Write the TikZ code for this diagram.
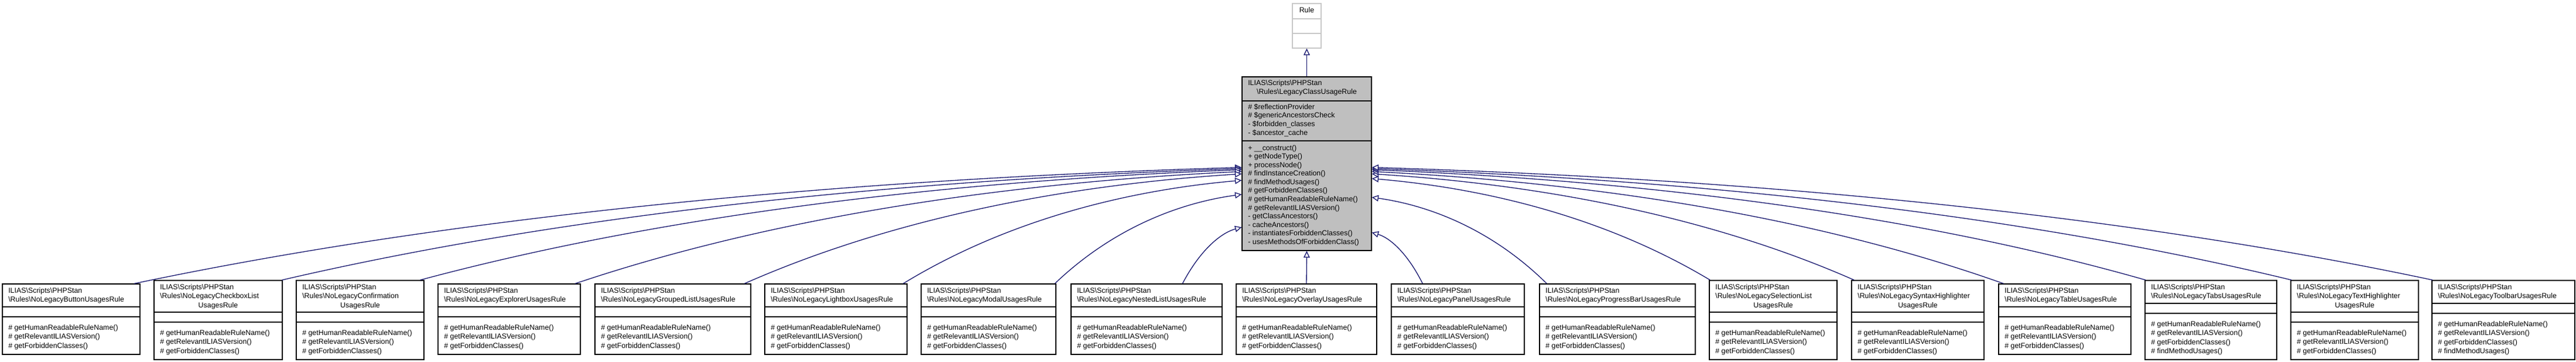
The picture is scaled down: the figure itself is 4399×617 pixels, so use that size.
\documentclass[tikz,border=0pt]{standalone}
\usepackage{fontspec}
\setmainfont{Liberation Sans}
\usetikzlibrary{arrows.meta,fit,calc}
\definecolor{cgray}{RGB}{191,191,191}
\definecolor{rgray}{RGB}{200,200,200}
\definecolor{navy}{RGB}{25,25,112}
\newcommand\BSL{\textbackslash}
\tikzset{
  box/.style={draw=black, line width=1pt, inner sep=0pt, fill=white},
  tx/.style={inner sep=0pt, anchor=west, font=\fontsize{9.3}{11}\selectfont},
  tc/.style={inner sep=0pt, anchor=center, font=\fontsize{9.3}{11}\selectfont},
  sep/.style={draw=black, line width=1pt},
  inh/.style={draw=navy, line width=1pt, -{Triangle[length=8.5pt,width=8pt,fill=white]}}
}
% #1 id, #2 L, #3 R, #4 top, #5 title lines, #6 title line 2, #7 method count
\newcommand\bbox[7]{%
  \pgfmathsetmacro\myhT{#5==2?39:54}%
  \pgfmathsetmacro\myhM{#7==3?64:79}%
  \pgfmathsetmacro\myyA{#4+\myhT}%
  \pgfmathsetmacro\myyB{\myyA+17}%
  \pgfmathsetmacro\myyC{\myyB+\myhM}%
  \node[box, fit={(#2,#4) (#3,\myyC)}] (#1) {};
  \draw[sep] (#2,\myyA) -- (#3,\myyA);
  \draw[sep] (#2,\myyB) -- (#3,\myyB);
  \node[tx] at (#2+10,#4+12) {ILIAS\BSL Scripts\BSL PHPStan};
  \node[tx] at (#2+10,#4+27.5) {#6};
  \ifnum#5=3 \node[tc] at ({(#2+#3)/2},#4+43) {UsagesRule};\fi
  \node[tx] at (#2+10,\myyB+19) {\# getHumanReadableRuleName()};
  \node[tx] at (#2+10,\myyB+34.5) {\# getRelevantILIASVersion()};
  \node[tx] at (#2+10,\myyB+50) {\# getForbiddenClasses()};
  \ifnum#7=4 \node[tx] at (#2+10,\myyB+65.5) {\# findMethodUsages()};\fi
}
% #1 start, #2 end
\newcommand\inhedge[2]{%
  \draw[inh] let \p1=(#1), \p2=(#2) in (\p1) .. controls ({\x1+0.3*(\x2-\x1)},{\y1+0.6*(\y2-\y1)}) and ({\x2-0.35*(\x2-\x1)},{\y2-0.1*(\y2-\y1)}) .. (\p2);
}
\begin{document}
\begin{tikzpicture}[x=0.75pt,y=-0.75pt]
\useasboundingbox (0,0) rectangle (4399,617);
% Rule
\node[draw=rgray, line width=1pt, inner sep=0pt, fill=white, fit={(2207,6) (2256,82)}] (r) {};
\draw[draw=rgray, line width=1pt] (2207,32) -- (2256,32) (2207,57) -- (2256,57);
\node[tc] at (2231.5,17) {Rule};
% center class
\node[box, fill=cgray, fit={(2121,131) (2342,427)}] (c) {};
\draw[sep] (2121,172) -- (2342,172) (2121,240) -- (2342,240);
\node[tx] at (2131,142) {ILIAS\BSL Scripts\BSL PHPStan};
\node[tc] at (2231.5,157) {\BSL Rules\BSL LegacyClassUsageRule};
\foreach \t [count=\i] in {\# \$reflectionProvider, \# \$genericAncestorsCheck, - \$forbidden\_classes, - \$ancestor\_cache}
  \node[tx] at (2131,{172+10+15*(\i-1)}) {\t};
\foreach \t [count=\i] in {+ \_\_construct(), + getNodeType(), + processNode(), \# findInstanceCreation(), \# findMethodUsages(), \# getForbiddenClasses(), \# getHumanReadableRuleName(), \# getRelevantILIASVersion(), - getClassAncestors(), - cacheAncestors(), - instantiatesForbiddenClasses(), - usesMethodsOfForbiddenClass()}
  \node[tx] at (2131,{240+13+14.55*(\i-1)}) {\t};
\draw[inh] (c.north) -- (r.south);
% subclasses
\bbox{b1}{4}{239}{484}{2}{\BSL Rules\BSL NoLegacyButtonUsagesRule}{3}
\bbox{b2}{263}{482}{478}{3}{\BSL Rules\BSL NoLegacyCheckboxList}{3}
\bbox{b3}{506}{724}{478}{3}{\BSL Rules\BSL NoLegacyConfirmation}{3}
\bbox{b4}{748}{991}{484}{2}{\BSL Rules\BSL NoLegacyExplorerUsagesRule}{3}
\bbox{b5}{1016}{1282}{484}{2}{\BSL Rules\BSL NoLegacyGroupedListUsagesRule}{3}
\bbox{b6}{1306}{1549}{484}{2}{\BSL Rules\BSL NoLegacyLightboxUsagesRule}{3}
\bbox{b7}{1573}{1803}{484}{2}{\BSL Rules\BSL NoLegacyModalUsagesRule}{3}
\bbox{b8}{1829}{2087}{484}{2}{\BSL Rules\BSL NoLegacyNestedListUsagesRule}{3}
\bbox{b9}{2111}{2351}{484}{2}{\BSL Rules\BSL NoLegacyOverlayUsagesRule}{3}
\bbox{b10}{2376}{2603}{484}{2}{\BSL Rules\BSL NoLegacyPanelUsagesRule}{3}
\bbox{b11}{2629}{2895}{484}{2}{\BSL Rules\BSL NoLegacyProgressBarUsagesRule}{3}
\bbox{b12}{2919}{3137}{478}{3}{\BSL Rules\BSL NoLegacySelectionList}{3}
\bbox{b13}{3162}{3388}{478}{3}{\BSL Rules\BSL NoLegacySyntaxHighlighter}{3}
\bbox{b14}{3413}{3639}{484}{2}{\BSL Rules\BSL NoLegacyTableUsagesRule}{3}
\bbox{b15}{3663}{3888}{478}{2}{\BSL Rules\BSL NoLegacyTabsUsagesRule}{4}
\bbox{b16}{3912}{4130}{478}{3}{\BSL Rules\BSL NoLegacyTextHighlighter}{3}
\bbox{b17}{4153}{4397}{478}{2}{\BSL Rules\BSL NoLegacyToolbarUsagesRule}{4}
% inheritance edges
\inhedge{$(b1.north west)+(226,0)$}{$(c.north west)+(0,155)$}
\inhedge{$(b2.north west)+(219,0)$}{$(c.north west)+(0,157)$}
\inhedge{$(b3.north west)+(212,0)$}{$(c.north west)+(0,159)$}
\inhedge{$(b4.north west)+(235,0)$}{$(c.north west)+(0,162)$}
\inhedge{$(b5.north west)+(256,0)$}{$(c.north west)+(0,166)$}
\inhedge{$(b6.north west)+(237,0)$}{$(c.north west)+(0,177)$}
\inhedge{$(b7.north west)+(229,0)$}{$(c.north west)+(0,201)$}
\inhedge{$(b8.north west)+(191,0)$}{$(c.north west)+(0,257)$}
\draw[inh] (b9.north) -- (c.south);
\inhedge{$(b10.north west)+(54,0)$}{$(c.north east)+(0,266)$}
\inhedge{$(b11.north west)+(13,0)$}{$(c.north east)+(0,206)$}
\inhedge{$(b12.north west)+(2,0)$}{$(c.north east)+(0,174)$}
\inhedge{$(b13.north west)+(5,0)$}{$(c.north east)+(0,166)$}
\inhedge{$(b14.north west)+(9,0)$}{$(c.north east)+(0,162)$}
\inhedge{$(b15.north west)+(2,0)$}{$(c.north east)+(0,159)$}
\inhedge{$(b16.north west)+(2,0)$}{$(c.north east)+(0,157)$}
\inhedge{$(b17.north west)+(2,0)$}{$(c.north east)+(0,155)$}
\end{tikzpicture}
\end{document}
